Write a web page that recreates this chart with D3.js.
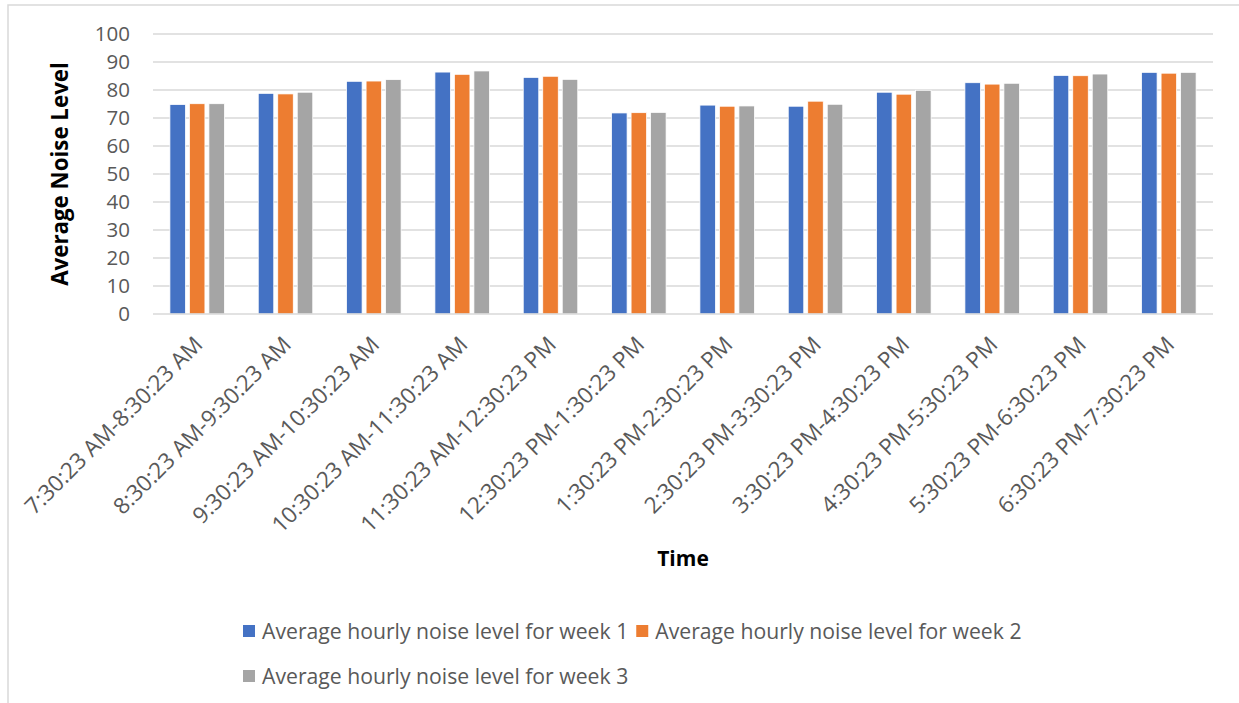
<!DOCTYPE html>
<html>
<head>
<meta charset="utf-8">
<script src="https://cdn.jsdelivr.net/npm/d3@7/dist/d3.min.js"></script>
<style>
  html, body { margin: 0; padding: 0; background: #fff; }
  svg { display: block; font-family: "Open Sans", "Liberation Sans", sans-serif; }
</style>
</head>
<body>
<svg id="chart" width="1239" height="703"></svg>
<script>
// Hourly time windows on the x axis
const categories = [
  "7:30:23 AM-8:30:23 AM", "8:30:23 AM-9:30:23 AM", "9:30:23 AM-10:30:23 AM",
  "10:30:23 AM-11:30:23 AM", "11:30:23 AM-12:30:23 PM", "12:30:23 PM-1:30:23 PM",
  "1:30:23 PM-2:30:23 PM", "2:30:23 PM-3:30:23 PM", "3:30:23 PM-4:30:23 PM",
  "4:30:23 PM-5:30:23 PM", "5:30:23 PM-6:30:23 PM", "6:30:23 PM-7:30:23 PM"
];

// Average noise level per hour, one array per week
const week1 = [74.8, 78.8, 83.1, 86.4, 84.5, 71.8, 74.6, 74.2, 79.2, 82.6, 85.2, 86.3];
const week2 = [75.1, 78.6, 83.2, 85.6, 84.9, 71.9, 74.2, 76.0, 78.5, 82.1, 85.1, 86.0];
const week3 = [75.1, 79.2, 83.7, 86.8, 83.8, 72.0, 74.3, 74.9, 79.9, 82.4, 85.7, 86.3];

const seriesNames = [
  "Average hourly noise level for week 1",
  "Average hourly noise level for week 2",
  "Average hourly noise level for week 3"
];
const seriesValues = [week1, week2, week3];
const seriesColors = ["#4472C4", "#ED7D31", "#A5A5A5"];

const yTicks = [0, 10, 20, 30, 40, 50, 60, 70, 80, 90, 100];

const svg = d3.select("#chart");
const plot = { left: 153, right: 1213, top: 34, bottom: 314 };

// Chart area outline (top and left edges)
svg.append("path")
  .attr("d", "M8,703 L8,5 L1239,5")
  .attr("fill", "none")
  .attr("stroke", "#d9d9d9")
  .attr("stroke-width", 1.5);

const x0 = d3.scaleBand().domain(categories).range([plot.left, plot.right]).padding(0);
const x1 = d3.scaleBand().domain(d3.range(seriesNames.length))
  .range([-27.25, 27.25]).paddingInner(0.205).paddingOuter(0);
const y = d3.scaleLinear().domain([0, 100]).range([plot.bottom, plot.top]);

// Horizontal gridlines
svg.append("g")
  .selectAll("line")
  .data(yTicks.filter(d => d > 0))
  .join("line")
  .attr("x1", plot.left).attr("x2", plot.right)
  .attr("y1", d => y(d)).attr("y2", d => y(d))
  .attr("stroke", "#d9d9d9").attr("stroke-width", 1.3);

// Y tick labels
svg.append("g")
  .selectAll("text")
  .data(yTicks)
  .join("text")
  .attr("x", 130)
  .attr("y", d => y(d))
  .attr("dy", "0.36em")
  .attr("text-anchor", "end")
  .attr("fill", "#595959")
  .attr("font-size", 20.5)
  .text(d => d);

// Bars
const groups = svg.append("g")
  .selectAll("g")
  .data(categories)
  .join("g")
  .attr("transform", c => `translate(${x0(c) + x0.bandwidth() / 2},0)`);

groups.selectAll("rect")
  .data((c, i) => seriesValues.map((vals, s) => ({ s, v: vals[i] })))
  .join("rect")
  .attr("x", d => x1(d.s))
  .attr("width", x1.bandwidth())
  .attr("y", d => y(d.v))
  .attr("height", d => y(0) - y(d.v))
  .attr("fill", d => seriesColors[d.s])
  .attr("stroke", "#fff")
  .attr("stroke-width", 0.75);

// X axis baseline
svg.append("line")
  .attr("x1", plot.left).attr("x2", plot.right)
  .attr("y1", y(0)).attr("y2", y(0))
  .attr("stroke", "#d9d9d9").attr("stroke-width", 1.5);

// Rotated category labels
svg.append("g")
  .selectAll("text")
  .data(categories)
  .join("text")
  .attr("transform", c => `translate(${x0(c) + x0.bandwidth() / 2 + 7},346) rotate(-45)`)
  .attr("text-anchor", "end")
  .attr("fill", "#595959")
  .attr("font-size", 22.5)
  .text(c => c);

// Axis titles
svg.append("text")
  .attr("transform", `translate(68,${(plot.top + plot.bottom) / 2}) rotate(-90)`)
  .attr("text-anchor", "middle")
  .attr("font-weight", "bold")
  .attr("font-size", 22.3)
  .attr("fill", "#000")
  .text("Average Noise Level");

svg.append("text")
  .attr("x", (plot.left + plot.right) / 2)
  .attr("y", 566)
  .attr("text-anchor", "middle")
  .attr("font-weight", "bold")
  .attr("font-size", 21)
  .attr("fill", "#000")
  .text("Time");

// Legend: two entries on the first row, one on the second
const legend = svg.append("g");
const legendRows = [[0, 1], [2]];
const rowY = [631, 676];
legendRows.forEach((row, r) => {
  let cx = 243;
  row.forEach(s => {
    legend.append("rect")
      .attr("x", cx).attr("y", rowY[r] - 6)
      .attr("width", 12).attr("height", 12)
      .attr("fill", seriesColors[s]);
    const t = legend.append("text")
      .attr("x", cx + 19).attr("y", rowY[r])
      .attr("dy", "0.36em")
      .attr("fill", "#595959")
      .attr("font-size", 21.2)
      .text(seriesNames[s]);
    cx = cx + 19 + t.node().getComputedTextLength() + 8;
  });
});
</script>
</body>
</html>
